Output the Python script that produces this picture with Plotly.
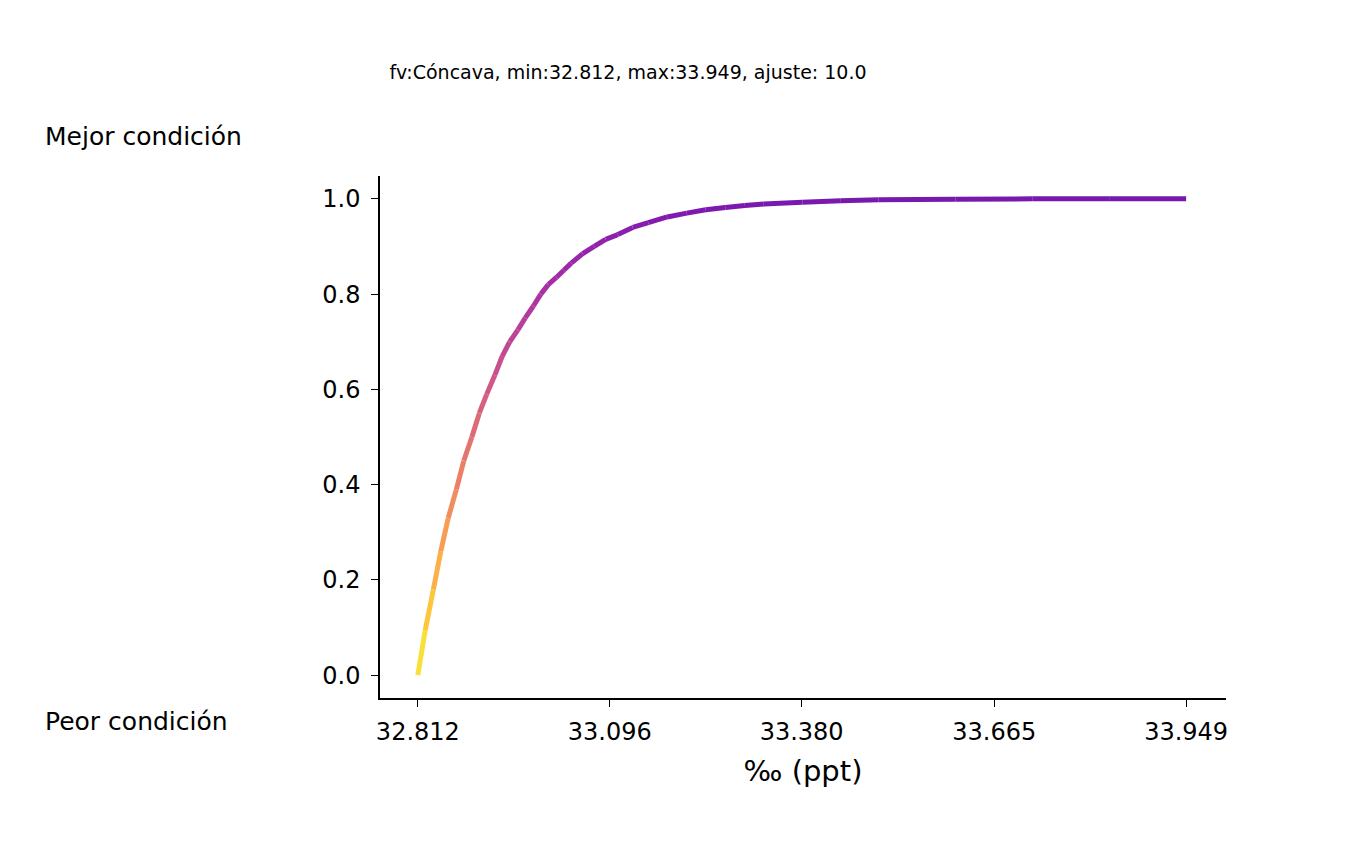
import plotly.graph_objects as go
from plotly.colors import sample_colorscale

# values
salinity = [32.812, 32.823, 32.835, 32.846, 32.857, 32.869, 32.880, 32.892,
            32.903, 32.914, 32.926, 32.937, 32.948, 32.960, 32.971, 32.983,
            32.994, 33.005, 33.017, 33.028, 33.039, 33.056, 33.073, 33.090,
            33.108, 33.130, 33.153, 33.181, 33.210, 33.238, 33.267, 33.296,
            33.324, 33.381, 33.438, 33.494, 33.608, 33.722, 33.835, 33.949]
condition = [0.0, 0.095, 0.18, 0.26, 0.33, 0.39, 0.45, 0.50,
             0.55, 0.59, 0.63, 0.67, 0.70, 0.725, 0.75, 0.775,
             0.80, 0.82, 0.835, 0.85, 0.865, 0.885, 0.90, 0.915,
             0.925, 0.94, 0.95, 0.962, 0.97, 0.977, 0.982, 0.986,
             0.989, 0.993, 0.996, 0.998, 0.999, 1.0, 1.0, 1.0]
tick_vals = [32.812, 33.096, 33.380, 33.665, 33.949]
tick_text = ['32.812', '33.096', '33.380', '33.665', '33.949']

fig = go.Figure()
for i in range(len(salinity) - 1):
    ym = (condition[i] + condition[i + 1]) / 2
    col = sample_colorscale('Plasma', [0.97 - 0.77 * ym])[0]
    fig.add_trace(go.Scatter(
        x=salinity[i:i + 2], y=condition[i:i + 2], mode='lines',
        line=dict(color=col, width=5), opacity=0.9,
        showlegend=False, hoverinfo='skip'))

font = dict(family='DejaVu Sans', size=24, color='black')
fig.update_layout(
    width=1353, height=843, plot_bgcolor='white', paper_bgcolor='white',
    margin=dict(l=372, r=135, t=168, b=153),
    font=font,
    title=dict(text='fv:Cóncava, min:32.812, max:33.949, ajuste: 10.0',
               x=620 / 1353, xanchor='center', y=1 - 64 / 843, yanchor='middle',
               font=dict(family='DejaVu Sans', size=19)),
    xaxis=dict(range=[32.756, 34.008], tickvals=tick_vals, ticktext=tick_text,
               showgrid=False, zeroline=False, showline=True, linecolor='black',
               linewidth=1.5, ticks='outside', ticklen=7, tickcolor='black',
               ticklabelstandoff=4,
               title=dict(text='‰ (ppt)', standoff=16)),
    yaxis=dict(range=[-0.048, 1.048], tickvals=[0, 0.2, 0.4, 0.6, 0.8, 1.0],
               ticktext=['0.0', '0.2', '0.4', '0.6', '0.8', '1.0'],
               showgrid=False, zeroline=False, showline=True, linecolor='black',
               linewidth=1.5, ticks='outside', ticklen=7, tickcolor='black',
               ticklabelstandoff=6),
    annotations=[
        dict(text='Mejor condición', xref='paper', yref='paper',
             x=-337 / 846, y=(690 - 128) / 522, xanchor='left', yanchor='middle',
             showarrow=False, font=dict(family='DejaVu Sans', size=25)),
        dict(text='Peor condición', xref='paper', yref='paper',
             x=-337 / 846, y=(690 - 713) / 522, xanchor='left', yanchor='middle',
             showarrow=False, font=dict(family='DejaVu Sans', size=25)),
    ],
)
fig.write_html('out.html')
